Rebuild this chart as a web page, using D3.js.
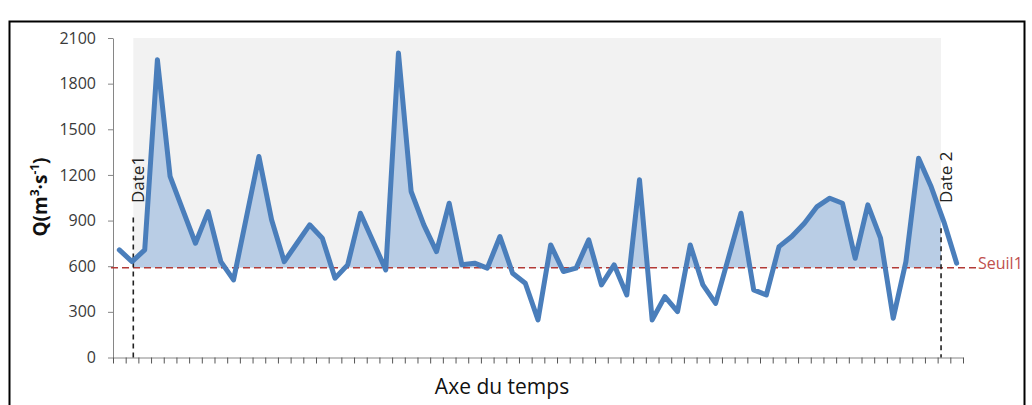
<!DOCTYPE html>
<html>
<head>
<meta charset="utf-8">
<script src="https://cdn.jsdelivr.net/npm/d3@7"></script>
<style>
  html, body { margin: 0; padding: 0; background: #fff; }
  svg { display: block; }
  text { font-family: "Open Sans", "Liberation Sans", sans-serif; }
</style>
</head>
<body>
<svg id="chart" width="1032" height="405"></svg>
<script>
// ---- data ----
const flows = [707, 630, 707, 1957, 1190, 970, 751, 959, 630, 510,
               915, 1321, 905, 630, 751, 872, 784, 521, 609, 948,
               762, 576, 2001, 1091, 872, 696, 1014, 609, 620, 587,
               795, 554, 488, 247, 740, 565, 587, 773, 477, 609,
               411, 1168, 247, 400, 302, 740, 477, 356, 652, 948,
               444, 411, 729, 795, 883, 992, 1047, 1014, 652, 1003,
               784, 258, 630, 1310, 1120, 890, 620];
const yTicks = [0, 300, 600, 900, 1200, 1500, 1800, 2100];
const seuilValue = 590;
const seuilLabel = "Seuil1";
const dateLabels = ["Date1", "Date 2"];
const datePositions = [1.6, 65.27];   // position on the time axis (category units)
const dateTopValues = [920, 850];     // value where the dashed marker line stops
const xTitle = "Axe du temps";

// ---- layout ----
const svg = d3.select("#chart");
const mLeft = 113, mRight = 963, mTop = 38, mBottom = 357.5;

const x = d3.scaleLinear().domain([0, flows.length]).range([mLeft, mRight]);
const y = d3.scaleLinear().domain([0, 2100]).range([mBottom, mTop]);
const px = (d, i) => x(i + 0.5);

// outer frame
svg.append("rect")
  .attr("x", 9.5).attr("y", 21.5).attr("width", 1015).attr("height", 400)
  .attr("fill", "none").attr("stroke", "#000").attr("stroke-width", 2);

// gray zone between dates above threshold
svg.append("rect")
  .attr("x", x(datePositions[0])).attr("y", y(2100))
  .attr("width", x(datePositions[1]) - x(datePositions[0]))
  .attr("height", y(seuilValue) - y(2100))
  .attr("fill", "#f2f2f2");

// clip for the blue area
svg.append("defs").append("clipPath").attr("id", "zone")
  .append("rect")
  .attr("x", x(datePositions[0])).attr("y", y(2100))
  .attr("width", x(datePositions[1]) - x(datePositions[0]))
  .attr("height", y(seuilValue) - y(2100));

const area = d3.area()
  .x(px)
  .y0(y(seuilValue))
  .y1(d => y(d));

svg.append("path")
  .datum(flows)
  .attr("clip-path", "url(#zone)")
  .attr("d", area)
  .attr("fill", "#b9cde5");

// axes
const yAxis = d3.axisLeft(y).tickValues(yTicks).tickFormat(d => String(d))
  .tickSize(5).tickSizeOuter(0).tickPadding(12);
const gy = svg.append("g").attr("transform", `translate(${mLeft},0)`).call(yAxis);
gy.select(".domain").attr("stroke", "#868686");
gy.selectAll(".tick line").attr("stroke", "#868686");
gy.selectAll(".tick text")
  .attr("font-family", "Open Sans, sans-serif")
  .attr("font-size", 16).attr("fill", "#3a3a3a");

const xAxis = d3.axisBottom(x).tickValues(d3.range(flows.length + 1))
  .tickFormat("").tickSize(6).tickSizeOuter(0);
const gx = svg.append("g").attr("transform", `translate(0,${mBottom})`).call(xAxis);
gx.select(".domain").attr("stroke", "#868686");
gx.selectAll(".tick line").attr("stroke", "#555");

// threshold line
svg.append("line")
  .attr("x1", mLeft - 2).attr("x2", 977)
  .attr("y1", y(seuilValue)).attr("y2", y(seuilValue))
  .attr("stroke", "#b23a36").attr("stroke-width", 1.6)
  .attr("stroke-dasharray", "7,4");
svg.append("text")
  .attr("x", 978).attr("y", y(seuilValue) + 1)
  .attr("font-size", 16).attr("fill", "#c0504d")
  .text(seuilLabel);

// date markers
datePositions.forEach((p, k) => {
  svg.append("line")
    .attr("x1", x(p)).attr("x2", x(p))
    .attr("y1", y(dateTopValues[k])).attr("y2", mBottom)
    .attr("stroke", "#222").attr("stroke-width", 1.6)
    .attr("stroke-dasharray", "5,4");
  svg.append("text")
    .attr("transform", `translate(${x(p) + 11},203) rotate(-90)`)
    .attr("font-size", 17).attr("fill", "#222")
    .text(dateLabels[k]);
});

// series line
const line = d3.line().x(px).y(d => y(d));
svg.append("path")
  .datum(flows)
  .attr("d", line)
  .attr("fill", "none")
  .attr("stroke", "#4a7ebb")
  .attr("stroke-width", 5)
  .attr("stroke-linejoin", "round")
  .attr("stroke-linecap", "round");

// y title
const yt = svg.append("text")
  .attr("transform", "translate(47,197) rotate(-90)")
  .attr("text-anchor", "middle")
  .attr("font-size", 19).attr("font-weight", "bold").attr("fill", "#111");
yt.append("tspan").text("Q(m");
yt.append("tspan").attr("font-size", 12).attr("dy", -8).text("3");
yt.append("tspan").attr("dy", 8).text("·s");
yt.append("tspan").attr("font-size", 12).attr("dy", -8).text("-1");
yt.append("tspan").attr("dy", 8).text(")");

// x title
svg.append("text")
  .attr("x", 502).attr("y", 394)
  .attr("text-anchor", "middle")
  .attr("font-size", 21).attr("fill", "#111")
  .text(xTitle);
</script>
</body>
</html>
